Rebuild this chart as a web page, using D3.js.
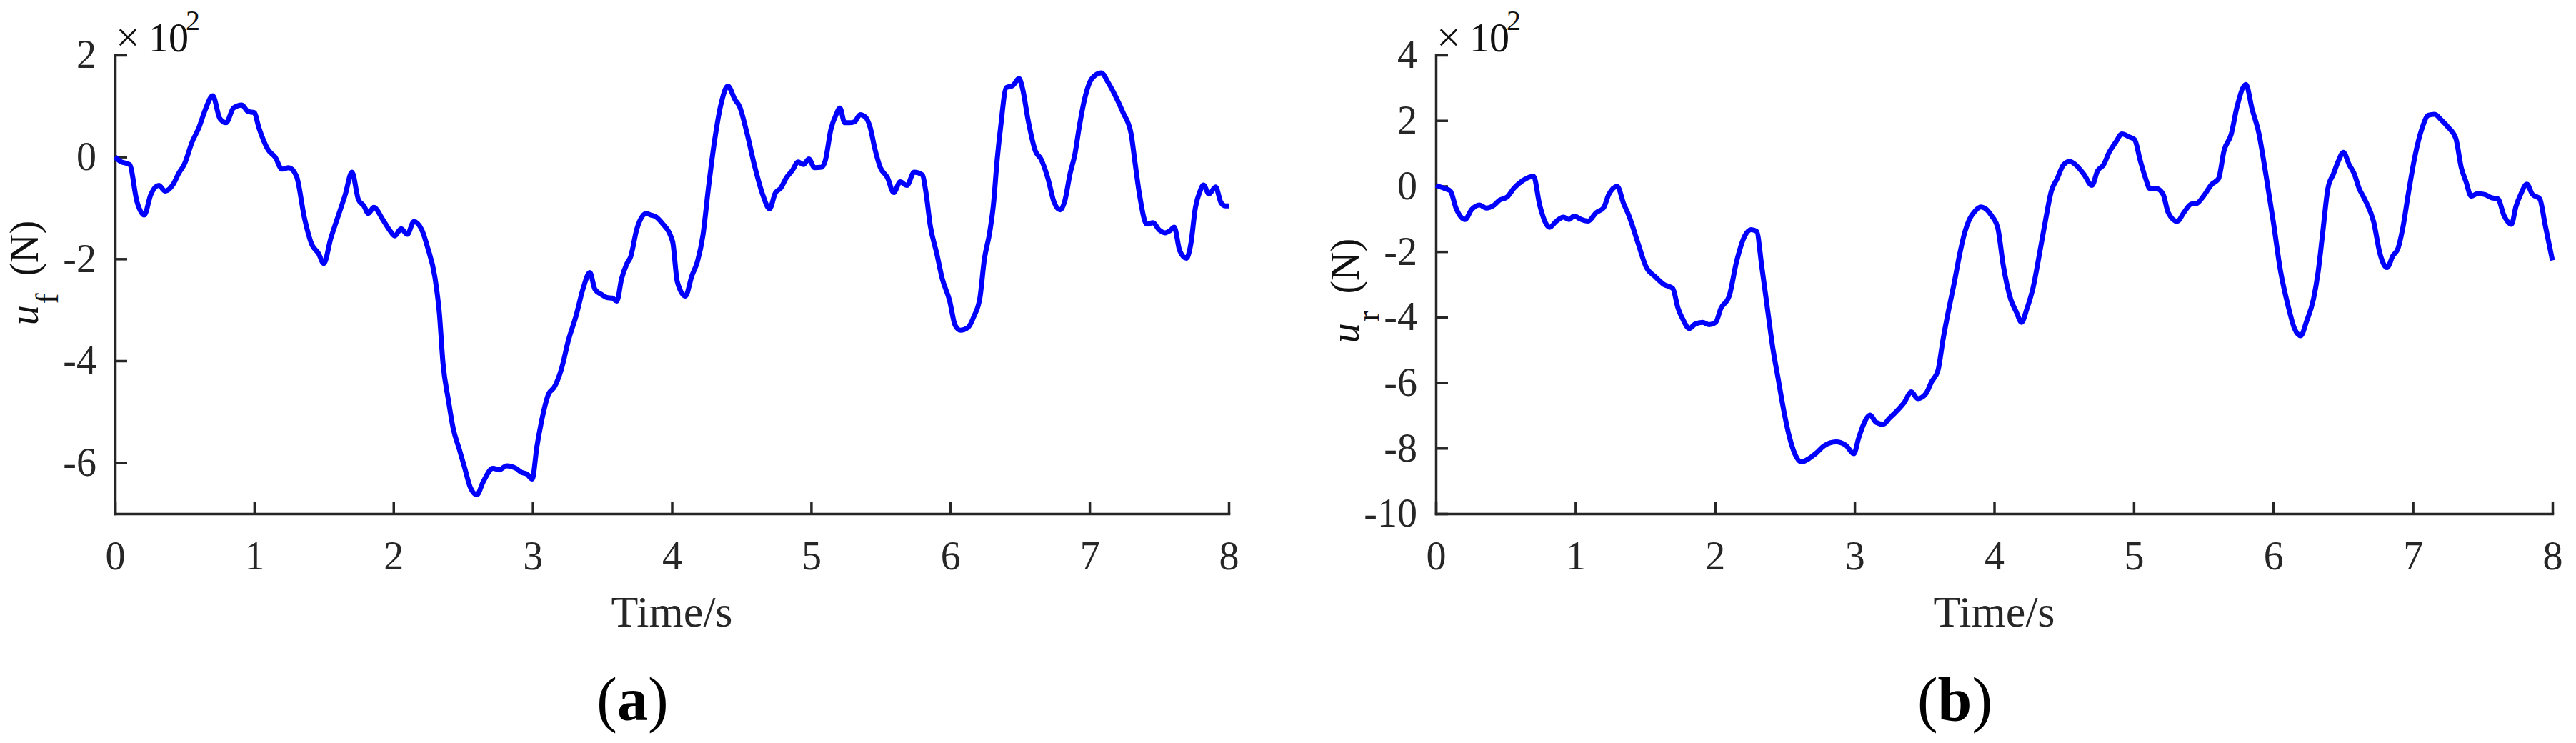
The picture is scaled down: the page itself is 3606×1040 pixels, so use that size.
<!DOCTYPE html>
<html>
<head>
<meta charset="utf-8">
<script src="https://cdn.jsdelivr.net/npm/d3@7"></script>
<style>
  html, body { margin: 0; padding: 0; background: #fff; }
  svg { display: block; font-family: 'Liberation Serif', 'Times New Roman', serif; }
</style>
</head>
<body>
<svg id="chart"></svg>
<script>
// tick labels
const timeTicks = [0, 1, 2, 3, 4, 5, 6, 7, 8]
const forceFTicks = [-6, -4, -2, 0, 2]
const forceRTicks = [-10, -8, -6, -4, -2, 0, 2, 4]

// (a) front force u_f, in units of 10^2 N
const timeF = [
  0, 0.04, 0.105, 0.157, 0.21, 0.257, 0.314, 0.361, 0.419, 0.458,
  0.497, 0.555, 0.602, 0.649, 0.702, 0.754, 0.798, 0.851, 0.911, 0.955,
  1.0, 1.034, 1.1, 1.152, 1.199, 1.249, 1.304, 1.361, 1.414, 1.461,
  1.5, 1.55, 1.602, 1.654, 1.702, 1.749, 1.788, 1.82, 1.859, 1.924,
  1.976, 2.01, 2.055, 2.1, 2.147, 2.204, 2.246, 2.298, 2.33, 2.356,
  2.395, 2.429, 2.474, 2.513, 2.552, 2.6, 2.644, 2.715, 2.76, 2.814,
  2.88, 2.92, 2.958, 2.997, 3.031, 3.063, 3.115, 3.155, 3.207, 3.259,
  3.312, 3.364, 3.411, 3.448, 3.495, 3.534, 3.573, 3.605, 3.639, 3.678,
  3.704, 3.749, 3.817, 3.848, 3.888, 3.927, 4.005,
  4.039, 4.097, 4.144, 4.184, 4.223, 4.262, 4.302, 4.354, 4.402, 4.454,
  4.486, 4.538, 4.596, 4.656, 4.701, 4.743, 4.782, 4.822, 4.866, 4.906,
  4.945, 4.984, 5.024, 5.076, 5.102, 5.142, 5.181, 5.207, 5.241, 5.273,
  5.312, 5.352, 5.391, 5.425, 5.457, 5.496, 5.549, 5.593, 5.64, 5.688,
  5.74, 5.798, 5.824, 5.856, 5.903, 5.942, 5.995, 6.034, 6.073, 6.126,
  6.171, 6.213, 6.244, 6.283, 6.31, 6.336, 6.362, 6.402, 6.449, 6.493,
  6.52, 6.559, 6.612, 6.651, 6.703, 6.743, 6.79, 6.822, 6.861, 6.895,
  6.927, 6.966, 7.018, 7.084, 7.136, 7.189, 7.241, 7.299, 7.325, 7.359,
  7.412, 7.457, 7.499, 7.543, 7.577, 7.609, 7.648, 7.696, 7.727, 7.761,
  7.793, 7.819, 7.858, 7.906, 7.945, 7.976, 8.0
]
const forceF = [
  0, -0.09, -0.15, -0.87, -1.14, -0.74, -0.56, -0.67, -0.53, -0.32,
  -0.15, 0.30, 0.57, 0.93, 1.20, 0.75, 0.67, 0.96, 1.02, 0.89,
  0.87, 0.57, 0.14, -0.01, -0.24, -0.21, -0.38, -1.20, -1.72, -1.89,
  -2.09, -1.60, -1.17, -0.74, -0.30, -0.84, -0.96, -1.11, -0.99, -1.23,
  -1.45, -1.55, -1.41, -1.52, -1.27, -1.43, -1.78, -2.36, -3.06, -4.04,
  -4.77, -5.32, -5.74, -6.11, -6.48, -6.63, -6.38, -6.11, -6.14, -6.06,
  -6.11, -6.19, -6.22, -6.32, -5.68, -5.20, -4.65, -4.52, -4.16, -3.58,
  -3.12, -2.57, -2.27, -2.60, -2.70, -2.76, -2.77, -2.83, -2.39, -2.09,
  -1.96, -1.41, -1.11, -1.14, -1.18, -1.29, -1.66,
  -2.45, -2.73, -2.33, -2.05, -1.54, -0.62, 0.23, 1.05, 1.39, 1.12,
  0.99, 0.48, -0.20, -0.77, -1.02, -0.71, -0.61, -0.41, -0.26, -0.10,
  -0.15, -0.04, -0.21, -0.20, -0.07, 0.54, 0.84, 0.96, 0.67, 0.67,
  0.69, 0.83, 0.78, 0.57, 0.17, -0.20, -0.41, -0.70, -0.49, -0.56,
  -0.30, -0.35, -0.68, -1.35, -1.90, -2.39, -2.82, -3.30, -3.40, -3.35,
  -3.12, -2.76, -2.02, -1.48, -0.93, -0.07, 0.60, 1.36, 1.40, 1.54,
  1.33, 0.72, 0.11, -0.04, -0.44, -0.87, -1.04, -0.87, -0.32, 0.05,
  0.60, 1.15, 1.54, 1.65, 1.45, 1.18, 0.87, 0.45, -0.07, -0.74,
  -1.32, -1.29, -1.43, -1.49, -1.45, -1.38, -1.84, -1.99, -1.72, -0.99,
  -0.68, -0.55, -0.73, -0.59, -0.90, -0.96, -0.96
]

// (b) rear force u_r, in units of 10^2 N
const timeR = [
  0, 0.065, 0.104, 0.144, 0.209, 0.256, 0.313, 0.36, 0.418, 0.457,
  0.509, 0.561, 0.627, 0.70, 0.744, 0.815, 0.862, 0.914, 0.953, 0.992,
  1.031, 1.091, 1.149, 1.201, 1.24, 1.30, 1.345, 1.384, 1.449, 1.509,
  1.567, 1.632, 1.697, 1.736, 1.775, 1.815, 1.859, 1.911, 1.958, 2.005,
  2.042, 2.102, 2.154, 2.214, 2.258, 2.298, 2.337, 2.376, 2.415, 2.454,
  2.493, 2.533, 2.572, 2.619, 2.676, 2.728, 2.781, 2.867, 2.937, 2.995,
  3.029, 3.06, 3.112, 3.154, 3.206, 3.251, 3.29, 3.355, 3.407, 3.452,
  3.512, 3.551, 3.598, 3.634, 3.676, 3.713, 3.755, 3.786, 3.825, 3.864,
  3.903, 3.956, 3.982,
  4.026, 4.065, 4.118, 4.157, 4.196, 4.235, 4.28, 4.322, 4.366, 4.41,
  4.452, 4.497, 4.541, 4.583, 4.641, 4.701, 4.74, 4.784, 4.824, 4.871,
  4.915, 4.967, 5.007, 5.046, 5.085, 5.116, 5.163, 5.21, 5.247, 5.312,
  5.359, 5.412, 5.451, 5.503, 5.556, 5.608, 5.647, 5.699, 5.739, 5.804,
  5.848, 5.895, 5.948, 6.0, 6.052, 6.105, 6.152, 6.196, 6.24, 6.288,
  6.322, 6.353, 6.392, 6.431, 6.465, 6.502, 6.544, 6.58, 6.614, 6.658,
  6.719, 6.763, 6.815, 6.857, 6.894, 6.928, 6.967, 7.014, 7.067, 7.111,
  7.156, 7.203, 7.25, 7.308, 7.347, 7.381, 7.418, 7.465, 7.517, 7.565,
  7.609, 7.654, 7.706, 7.739, 7.773, 7.817, 7.856, 7.909, 7.948, 8.0
]
const forceR = [
  0.02, -0.08, -0.15, -0.67, -1.02, -0.72, -0.58, -0.67, -0.58, -0.43,
  -0.34, -0.06, 0.18, 0.30, -0.58, -1.26, -1.08, -0.95, -1.02, -0.91,
  -1.00, -1.07, -0.81, -0.67, -0.25, -0.01, -0.53, -0.91, -1.75, -2.49,
  -2.75, -3.00, -3.12, -3.74, -4.11, -4.35, -4.21, -4.16, -4.23, -4.16,
  -3.74, -3.36, -2.32, -1.52, -1.33, -1.38, -2.51, -3.74, -4.96, -5.91,
  -6.85, -7.65, -8.17, -8.42, -8.31, -8.14, -7.93, -7.81, -7.91, -8.17,
  -7.70, -7.32, -6.99, -7.21, -7.27, -7.08, -6.92, -6.61, -6.28, -6.49,
  -6.33, -5.98, -5.62, -4.68, -3.74, -2.98, -2.04, -1.47, -1.00, -0.76,
  -0.64, -0.76, -0.91,
  -1.28, -2.42, -3.45, -3.83, -4.16, -3.74, -3.08, -2.13, -1.09, -0.15,
  0.23, 0.65, 0.75, 0.65, 0.37, 0.02, 0.46, 0.65, 1.03, 1.34,
  1.59, 1.50, 1.41, 0.79, 0.23, -0.08, -0.08, -0.25, -0.81, -1.08,
  -0.81, -0.55, -0.53, -0.29, 0.04, 0.23, 1.08, 1.59, 2.40, 3.10,
  2.35, 1.64, 0.32, -1.09, -2.60, -3.64, -4.35, -4.57, -4.11, -3.45,
  -2.60, -1.47, -0.06, 0.37, 0.75, 1.03, 0.65, 0.37, -0.06, -0.43,
  -1.09, -2.04, -2.49, -2.13, -1.90, -1.28, -0.25, 0.89, 1.78, 2.16,
  2.19, 2.02, 1.81, 1.45, 0.56, 0.13, -0.31, -0.23, -0.26, -0.36,
  -0.39, -0.91, -1.17, -0.62, -0.25, 0.06, -0.25, -0.39, -1.19, -2.27
]

const width = 3606
const height = 1040
const axisColor = '#262626'
const lineColor = '#0000ff'
const fontSize = 56

const svg = d3.select('#chart').attr('width', width).attr('height', height)
svg.append('rect').attr('width', width).attr('height', height).attr('fill', '#fff')

const drawPanel = (p) => {
  const x = d3.scaleLinear().domain([0, 8]).range([p.left, p.right])
  const y = d3.scaleLinear().domain(p.yDomain).range([p.bottom, p.top])
  const g = svg.append('g')

  const xAxis = d3.axisBottom(x)
    .tickValues(timeTicks)
    .tickSizeInner(-17)
    .tickSizeOuter(0)
    .tickPadding(38)
    .tickFormat(d => String(d))

  const yAxis = d3.axisLeft(y)
    .tickValues(p.yTicks)
    .tickSizeInner(-17)
    .tickSizeOuter(0)
    .tickPadding(26)
    .tickFormat(d => String(d))

  const gx = g.append('g').attr('transform', 'translate(0,' + p.bottom + ')').call(xAxis)
  const gy = g.append('g').attr('transform', 'translate(' + p.left + ',0)').call(yAxis)

  ;[gx, gy].forEach(a => {
    a.attr('font-family', null).attr('font-size', fontSize)
    a.select('.domain').attr('stroke', axisColor).attr('stroke-width', 3.5).attr('stroke-linecap', 'square')
    a.selectAll('.tick line').attr('stroke', axisColor).attr('stroke-width', 3.5)
    a.selectAll('.tick text').attr('fill', axisColor)
  })

  const line = d3.line()
    .x(d => x(d[0]))
    .y(d => y(d[1]))
    .curve(d3.curveMonotoneX)

  g.append('path')
    .datum(d3.zip(p.time, p.force))
    .attr('d', line)
    .attr('fill', 'none')
    .attr('stroke', lineColor)
    .attr('stroke-width', 7)
    .attr('stroke-linejoin', 'round')

  // exponent marker above the y axis
  const expo = g.append('text').attr('fill', '#111').attr('font-size', fontSize)
  expo.append('tspan').attr('x', p.left + 1).attr('y', 72).attr('font-size', 60).text('\u00d7')
  expo.append('tspan').attr('x', p.left + 47).attr('y', 72).text('10')
  expo.append('tspan').attr('x', p.left + 99).attr('y', 42).attr('font-size', 40).text('2')

  // y label
  const label = g.append('text')
    .attr('transform', 'translate(' + (p.left - 108) + ',' + p.labelY + ') rotate(-90)')
    .attr('text-anchor', 'middle')
    .attr('font-size', fontSize)
    .attr('fill', '#111')
  label.append('tspan').attr('font-style', 'italic').text('u')
  label.append('tspan').attr('font-size', 44).attr('dx', 2).attr('dy', 28).text(p.sub)
  label.append('tspan').attr('dx', 10).attr('dy', -28).text('\u00a0(N)')

  // x label
  g.append('text')
    .attr('x', (p.left + p.right) / 2)
    .attr('y', 877)
    .attr('text-anchor', 'middle')
    .attr('font-size', 62)
    .attr('fill', axisColor)
    .text('Time/s')

  // panel tag
  const tag = g.append('text')
    .attr('x', (p.left + p.right) / 2 - 55)
    .attr('y', 1008)
    .attr('text-anchor', 'middle')
    .attr('font-size', 86)
    .attr('fill', '#000')
  tag.append('tspan').text('(')
  tag.append('tspan').attr('font-weight', 'bold').text(p.tag)
  tag.append('tspan').text(')')
}

drawPanel({
  left: 161, right: 1720, top: 77, bottom: 719,
  yDomain: [-7, 2], yTicks: forceFTicks,
  time: timeF, force: forceF,
  sub: 'f', labelY: 382, tag: 'a'
})

drawPanel({
  left: 2010, right: 3573, top: 77, bottom: 719,
  yDomain: [-10, 4], yTicks: forceRTicks,
  time: timeR, force: forceR,
  sub: 'r', labelY: 407, tag: 'b'
})
</script>
</body>
</html>
